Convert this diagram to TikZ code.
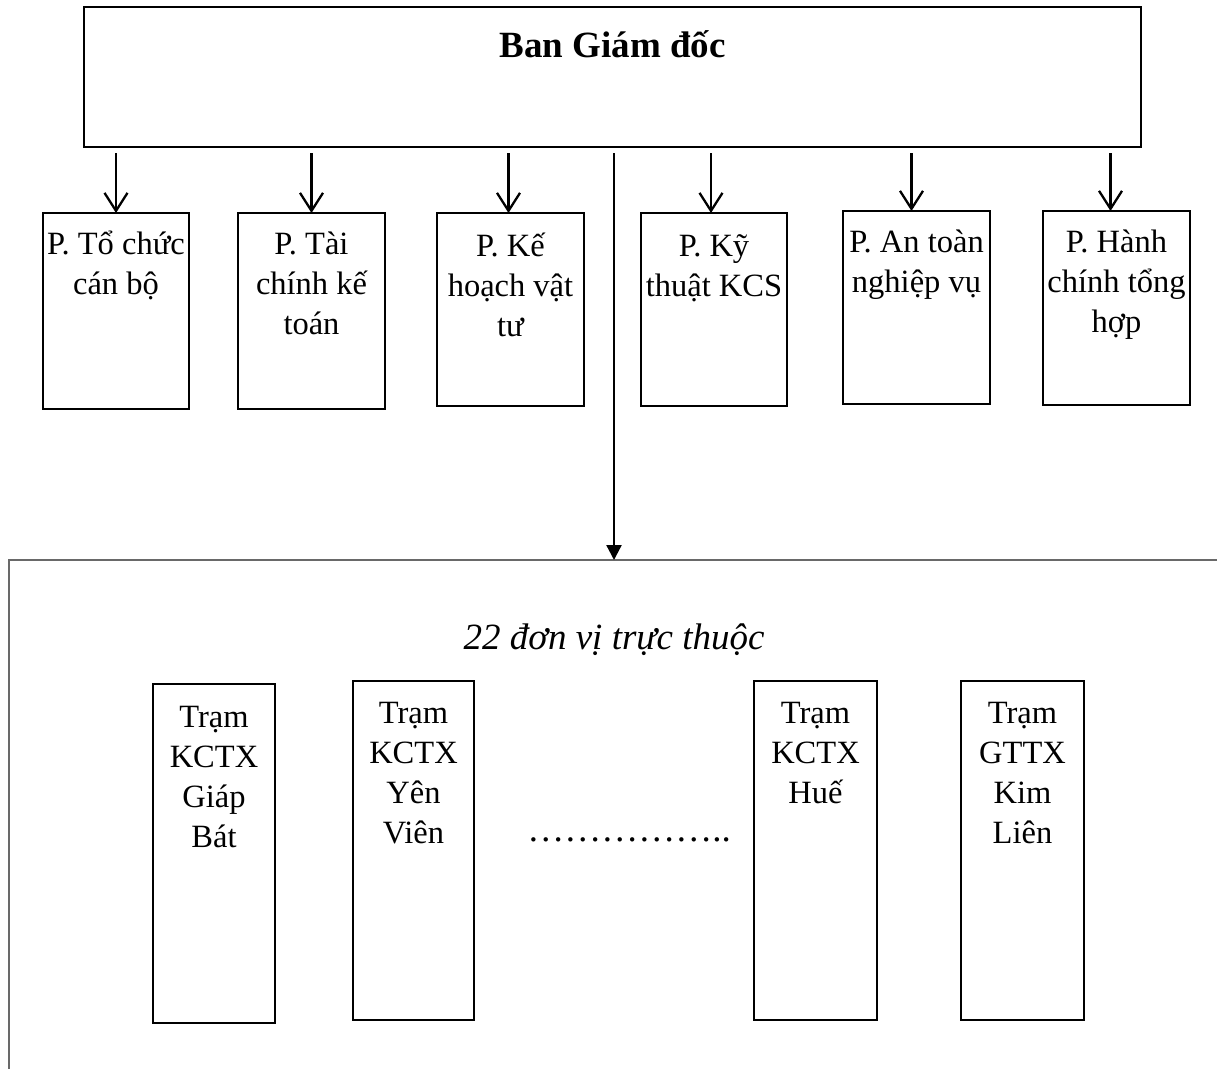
\documentclass[tikz,border=0pt]{standalone}
\usepackage{fontspec}
\setmainfont{Liberation Serif}
\usetikzlibrary{arrows.meta}
\definecolor{panegray}{RGB}{105,105,105}
\newcommand{\bxt}[4]{\parbox[c][#2pt][t]{#1pt}{\centering\fontsize{32.5}{40}\selectfont\rule{0pt}{#3pt}#4}}
\begin{document}
\begin{tikzpicture}[x=1pt,y=-1pt,
  bx/.style={draw, line width=2.6pt, inner sep=0pt, outer sep=0pt, anchor=north west},
  arr/.style={line width=2.3pt, -{Straight Barb[length=18pt,width=23pt,line width=2.3pt]}},
  bigarr/.style={line width=2.3pt, -{Triangle[length=15pt,width=15pt]}},
  pane/.style={draw=panegray, line width=1.8pt},
  txt/.style={inner sep=0pt, anchor=base}]
\useasboundingbox (0,0) rectangle (1217,1068);

% top box
\node[bx] (top) at (84,7) {\parbox[c][140pt][t]{1057pt}{\centering\fontsize{37}{44}\selectfont\rule{0pt}{50pt}\textbf{Ban Giám đốc}}};

% departments
\node[bx] (d1) at (43,213)   {\bxt{146}{196}{41}{\mbox{P. Tổ chức}\\\mbox{cán bộ}}};
\node[bx] (d2) at (238,213)  {\bxt{147}{196}{41}{\mbox{P. Tài}\\\mbox{chính kế}\\\mbox{toán}}};
\node[bx] (d3) at (437,213)  {\bxt{147}{193}{43}{\mbox{P. Kế}\\\mbox{hoạch vật}\\\mbox{tư}}};
\node[bx] (d4) at (641,213)  {\bxt{146}{193}{43}{\mbox{P. Kỹ}\\\mbox{thuật KCS}}};
\node[bx] (d5) at (843,211)  {\bxt{147}{193}{41}{\mbox{P. An toàn}\\\mbox{nghiệp vụ}}};
\node[bx] (d6) at (1043,211) {\bxt{147}{194}{41}{\mbox{P. Hành}\\\mbox{chính tổng}\\\mbox{hợp}}};

\foreach \d/\s in {d1/0,d2/0,d3/-2,d4/-3,d5/-5,d6/-6}{
  \coordinate (in\d) at ([xshift=\s pt]\d.north);
  \draw[arr] ([yshift=-6pt]top.south -| in\d) -- (in\d);
}

% lower pane
\draw[pane] (9,1090) |- (1240,560);
\coordinate (mid) at (614,560);
\draw[bigarr] ([yshift=-6pt]top.south -| mid) -- (mid);

\node[txt] (units) at (614,649) {\fontsize{37}{44}\selectfont\itshape 22 đơn vị trực thuộc};

% stations
\node[bx] (s1) at (153,684) {\bxt{122}{339}{43}{\mbox{Trạm}\\\mbox{KCTX}\\\mbox{Giáp}\\\mbox{Bát}}};
\node[bx] (s2) at (353,681) {\bxt{121}{339}{42}{\mbox{Trạm}\\\mbox{KCTX}\\\mbox{Yên}\\\mbox{Viên}}};
\node[bx] (s3) at (754,681) {\bxt{123}{339}{42}{\mbox{Trạm}\\\mbox{KCTX}\\\mbox{Huế}}};
\node[bx] (s4) at (961,681) {\bxt{123}{339}{42}{\mbox{Trạm}\\\mbox{GTTX}\\\mbox{Kim}\\\mbox{Liên}}};

\node[txt] (dots) at (629,841) {\fontsize{37}{44}\selectfont ……………..};
\end{tikzpicture}
\end{document}
